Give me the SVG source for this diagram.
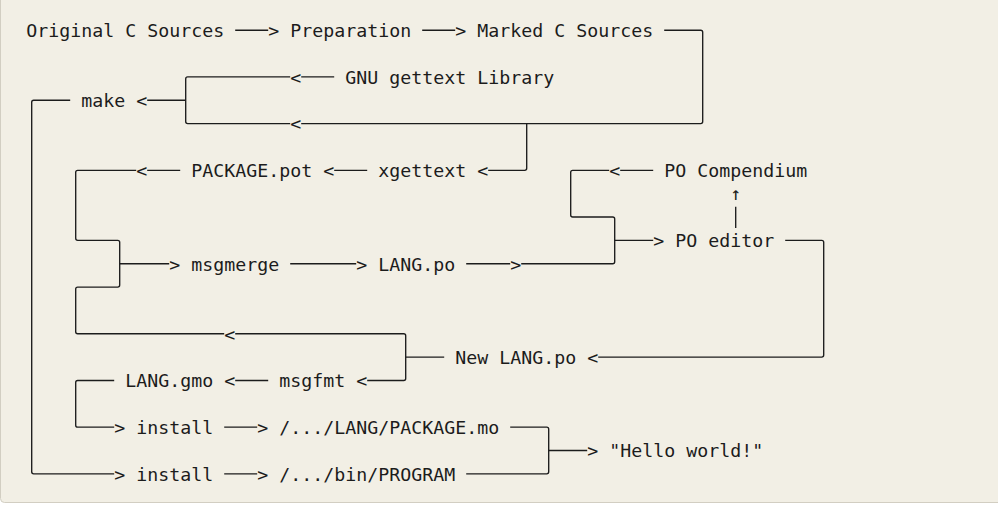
<svg xmlns="http://www.w3.org/2000/svg" width="998" height="506" viewBox="0 0 998 506">
<style>
.t{font-family:"DejaVu Sans Mono","Liberation Mono",monospace;font-size:18.27px;fill:#1c1c1c}
.c path{fill:none;stroke:#1c1c1c;stroke-width:1.35}
</style>
<rect x="0" y="0" width="998" height="506" fill="#ffffff"/>
<rect x="0.5" y="-10" width="1010" height="512.5" rx="4" fill="#f2efe5" stroke="#d2cec2" stroke-width="1"/>
<g class="c" id="connectors">
<path d="M235.2 30.2H268.2M422.2 30.2H455.2"/>
<path d="M664.2 30.2H700.7Q702.7 30.2 702.7 32.2V121.6Q702.7 123.6 700.7 123.6H301.2"/>
<path d="M290.2 76.9H187.7Q185.7 76.9 185.7 78.9V121.6Q185.7 123.6 187.7 123.6H290.2"/>
<path d="M147.2 100.25H185.7M301.2 76.9H334.2"/>
<path d="M70.2 100.25H33.7Q31.7 100.25 31.7 102.25V471.85Q31.7 473.85 33.7 473.85H114.2"/>
<path d="M526.7 123.6V168.3Q526.7 170.3 524.7 170.3H488.2"/>
<path d="M136.2 170.3H77.7Q75.7 170.3 75.7 172.3V238.35Q75.7 240.35 77.7 240.35H117.7Q119.7 240.35 119.7 242.35V285.05Q119.7 287.05 117.7 287.05H77.7Q75.7 287.05 75.7 289.05V331.75Q75.7 333.75 77.7 333.75H224.2"/>
<path d="M119.7 263.7H169.2M147.2 170.3H180.2M334.2 170.3H367.2"/>
<path d="M235.2 333.75H403.7Q405.7 333.75 405.7 335.75V378.45Q405.7 380.45 403.7 380.45H367.2"/>
<path d="M405.7 357.1H444.2"/>
<path d="M290.2 263.7H356.2M466.2 263.7H510.2"/>
<path d="M521.2 263.7H612.7Q614.7 263.7 614.7 261.7V219Q614.7 217 612.7 217H572.7Q570.7 217 570.7 215V172.3Q570.7 170.3 572.7 170.3H609.2"/>
<path d="M620.2 170.3H653.2M614.7 240.35H653.2"/>
<path d="M785.2 240.35H821.7Q823.7 240.35 823.7 242.35V355.1Q823.7 357.1 821.7 357.1H598.2"/>
<path d="M735.7 206.85V228.1"/>
<path d="M114.2 380.45H77.7Q75.7 380.45 75.7 382.45V425.15Q75.7 427.15 77.7 427.15H114.2"/>
<path d="M235.2 380.45H268.2M224.2 427.15H257.2M224.2 473.85H257.2"/>
<path d="M510.2 427.15H546.7Q548.7 427.15 548.7 429.15V471.85Q548.7 473.85 546.7 473.85H466.2"/>
<path d="M548.7 450.5H587.2"/>
<text class="t" x="268.2" y="37">&gt;</text>
<text class="t" x="455.2" y="37">&gt;</text>
<text class="t" x="290.2" y="83.7">&lt;</text>
<text class="t" x="136.2" y="107.05">&lt;</text>
<text class="t" x="290.2" y="130.4">&lt;</text>
<text class="t" x="136.2" y="177.1">&lt;</text>
<text class="t" x="323.2" y="177.1">&lt;</text>
<text class="t" x="477.2" y="177.1">&lt;</text>
<text class="t" x="609.2" y="177.1">&lt;</text>
<text class="t" x="730.2" y="200.45">↑</text>
<text class="t" x="653.2" y="247.15">&gt;</text>
<text class="t" x="169.2" y="270.5">&gt;</text>
<text class="t" x="356.2" y="270.5">&gt;</text>
<text class="t" x="510.2" y="270.5">&gt;</text>
<text class="t" x="224.2" y="340.55">&lt;</text>
<text class="t" x="587.2" y="363.9">&lt;</text>
<text class="t" x="224.2" y="387.25">&lt;</text>
<text class="t" x="356.2" y="387.25">&lt;</text>
<text class="t" x="114.2" y="433.95">&gt;</text>
<text class="t" x="257.2" y="433.95">&gt;</text>
<text class="t" x="587.2" y="457.3">&gt;</text>
<text class="t" x="114.2" y="480.65">&gt;</text>
<text class="t" x="257.2" y="480.65">&gt;</text>
</g>
<g id="original-c-sources"><text class="t" x="26.2" y="37">Original C Sources</text></g>
<g id="preparation"><text class="t" x="290.2" y="37">Preparation</text></g>
<g id="marked-c-sources"><text class="t" x="477.2" y="37">Marked C Sources</text></g>
<g id="gnu-gettext-library"><text class="t" x="345.2" y="83.7">GNU gettext Library</text></g>
<g id="make"><text class="t" x="81.2" y="107.05">make</text></g>
<g id="package-pot"><text class="t" x="191.2" y="177.1">PACKAGE.pot</text></g>
<g id="xgettext"><text class="t" x="378.2" y="177.1">xgettext</text></g>
<g id="po-compendium"><text class="t" x="664.2" y="177.1">PO Compendium</text></g>
<g id="po-editor"><text class="t" x="675.2" y="247.15">PO editor</text></g>
<g id="msgmerge"><text class="t" x="191.2" y="270.5">msgmerge</text></g>
<g id="lang-po"><text class="t" x="378.2" y="270.5">LANG.po</text></g>
<g id="new-lang-po"><text class="t" x="455.2" y="363.9">New LANG.po</text></g>
<g id="lang-gmo"><text class="t" x="125.2" y="387.25">LANG.gmo</text></g>
<g id="msgfmt"><text class="t" x="279.2" y="387.25">msgfmt</text></g>
<g id="install-mo"><text class="t" x="136.2" y="433.95">install</text></g>
<g id="lang-package-mo"><text class="t" x="279.2" y="433.95">/.../LANG/PACKAGE.mo</text></g>
<g id="hello-world"><text class="t" x="609.2" y="457.3">"Hello world!"</text></g>
<g id="install-program"><text class="t" x="136.2" y="480.65">install</text></g>
<g id="bin-program"><text class="t" x="279.2" y="480.65">/.../bin/PROGRAM</text></g>
</svg>
